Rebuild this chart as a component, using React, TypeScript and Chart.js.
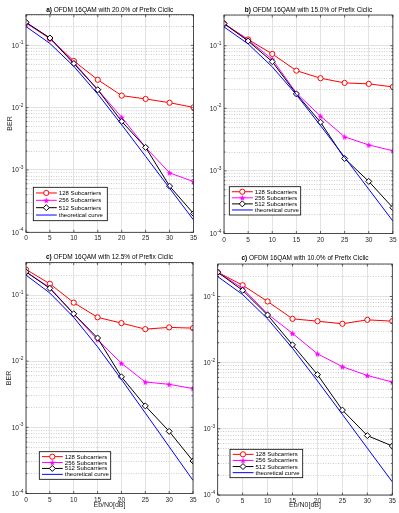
import React, { useEffect, useRef } from 'react';
import { Chart, registerables } from 'chart.js';
Chart.register(...registerables);

// ---------- data ----------
const snr = [0, 5, 10, 15, 20, 25, 30, 35];
const xTickValues = [0, 5, 10, 15, 20, 25, 30, 35];
const seriesNames = ['128 Subcarriers', '256 Subcarriers', '512 Subcarriers', 'theoretical curve'];
const titlePrefixes = ['a)', 'b)', 'c)', 'c)'];
const titleTexts = [
  ' OFDM 16QAM with 20.0% of Prefix Ciclic',
  ' OFDM 16QAM with 15.0% of Prefix Ciclic',
  ' OFDM 16QAM with 12.5% of Prefix Ciclic',
  ' OFDM 16QAM with 10.0% of Prefix Ciclic',
];
const yLabel = 'BER';
const xLabel = 'Eb/N0[dB]';
const yMin = 1e-4;
const yMax = 0.31;

const ber128A = [0.229, 0.128, 0.056, 0.028, 0.0156, 0.0138, 0.012, 0.0101];
const ber256A = [0.228, 0.131, 0.053, 0.0194, 0.007, 0.0023, 0.0009, 0.00065];
const ber512A = [0.234, 0.131, 0.051, 0.0194, 0.006, 0.0023, 0.00055, 0.0002];

const ber128B = [0.226, 0.126, 0.074, 0.04, 0.0303, 0.0255, 0.0246, 0.022];
const ber256B = [0.226, 0.123, 0.061, 0.0175, 0.0075, 0.0035, 0.0026, 0.0021];
const ber512B = [0.226, 0.119, 0.0557, 0.017, 0.006, 0.00158, 0.00068, 0.000258];

const ber128C = [0.243, 0.148, 0.0767, 0.046, 0.0376, 0.0305, 0.0324, 0.0316];
const ber256C = [0.224, 0.129, 0.052, 0.0211, 0.0093, 0.00484, 0.00447, 0.00385];
const ber512C = [0.224, 0.126, 0.052, 0.0224, 0.0058, 0.00211, 0.00087, 0.00031];

const ber128D = [0.233, 0.148, 0.0842, 0.046, 0.0424, 0.0387, 0.0444, 0.0424];
const ber256D = [0.233, 0.133, 0.0545, 0.0277, 0.0136, 0.0087, 0.0064, 0.0051];
const ber512D = [0.233, 0.124, 0.0526, 0.0186, 0.0066, 0.00192, 0.00079, 0.00055];

const berTheory = [0.2, 0.107, 0.046, 0.0165, 0.0053, 0.00165, 0.00051, 0.000158];

const panelSeries = [
  [ber128A, ber256A, ber512A],
  [ber128B, ber256B, ber512B],
  [ber128C, ber256C, ber512C],
  [ber128D, ber256D, ber512D],
];

// ---------- layout (page coordinates) ----------
type Layout = {
  cx: number; cy: number; cw: number; ch: number;
  L: number; T: number; R: number; B: number;
  lg: [number, number, number, number];
  titleY: number;
  yTitleX: number | null;
  xTitleY: number | null;
};
const layouts: Layout[] = [
  { cx: 0, cy: 0, cw: 200, ch: 250, L: 26, T: 14.7, R: 193.5, B: 232.3, lg: [33.3, 187.3, 74, 33.4], titleY: 10.5, yTitleX: 10, xTitleY: null },
  { cx: 200, cy: 0, cw: 199, ch: 250, L: 224, T: 15, R: 395, B: 233.5, lg: [229.3, 186.7, 71.4, 28.3], titleY: 10.5, yTitleX: null, xTitleY: null },
  { cx: 0, cy: 250, cw: 200, ch: 263, L: 26, T: 262.5, R: 193, B: 493.5, lg: [39.3, 451.7, 71.4, 27.6], titleY: 257.5, yTitleX: 9.5, xTitleY: 505 },
  { cx: 200, cy: 250, cw: 199, ch: 263, L: 217.7, T: 264, R: 392.3, B: 495, lg: [230, 449.3, 72.7, 28.4], titleY: 258.3, yTitleX: null, xTitleY: 505 },
];

const FONT = '"Liberation Sans", Arial, sans-serif';
const colors = ['#ff0000', '#ff00ff', '#000000', '#0000ff'];

function isDecade(v: number | undefined) {
  if (v === undefined || v <= 0) return false;
  const l = Math.log10(v);
  return Math.abs(l - Math.round(l)) < 1e-6;
}

const yGridValues: number[] = [];
for (let e = -4; e <= -1; e++) {
  for (let m = 1; m <= 9; m++) {
    const v = Number((m * Math.pow(10, e)).toPrecision(6));
    if (v <= yMax) yGridValues.push(v);
  }
}

function makeStar(color: string, size: number) {
  const c = document.createElement('canvas');
  c.width = size;
  c.height = size;
  const g = c.getContext('2d')!;
  const cxp = size / 2, cyp = size / 2 + 0.3;
  const ro = size / 2 - 0.2, ri = ro * 0.42;
  g.beginPath();
  for (let i = 0; i < 10; i++) {
    const r = i % 2 === 0 ? ro : ri;
    const a = -Math.PI / 2 + (i * Math.PI) / 5;
    const x = cxp + r * Math.cos(a);
    const y = cyp + r * Math.sin(a);
    if (i === 0) g.moveTo(x, y); else g.lineTo(x, y);
  }
  g.closePath();
  g.fillStyle = color;
  g.fill();
  return c;
}

function drawMarker(ctx: CanvasRenderingContext2D, idx: number, x: number, y: number, star: HTMLCanvasElement) {
  ctx.save();
  ctx.lineWidth = 1;
  if (idx === 0) {
    ctx.beginPath();
    ctx.arc(x, y, 2.6, 0, Math.PI * 2);
    ctx.fillStyle = '#fff';
    ctx.fill();
    ctx.strokeStyle = colors[0];
    ctx.stroke();
  } else if (idx === 1) {
    ctx.drawImage(star, x - star.width / 2, y - star.height / 2);
  } else if (idx === 2) {
    ctx.beginPath();
    ctx.moveTo(x, y - 3);
    ctx.lineTo(x + 3, y);
    ctx.lineTo(x, y + 3);
    ctx.lineTo(x - 3, y);
    ctx.closePath();
    ctx.fillStyle = '#fff';
    ctx.fill();
    ctx.strokeStyle = colors[2];
    ctx.stroke();
  }
  ctx.restore();
}

function Panel({ index }: { index: number }) {
  const ref = useRef<HTMLCanvasElement | null>(null);
  const lay = layouts[index];
  useEffect(() => {
    const canvas = ref.current;
    if (!canvas) return;
    const star = makeStar(colors[1], 7);
    const [s128, s256, s512] = panelSeries[index];
    const pts = (arr: number[]) => snr.map((x, i) => ({ x, y: arr[i] }));
    const yW = lay.L - lay.cx;
    const xH = lay.cy + lay.ch - lay.B;
    const padTop = lay.T - lay.cy;
    const padRight = lay.cx + lay.cw - lay.R;

    const decor = {
      id: 'decor',
      afterDraw(chart: any) {
        const ctx: CanvasRenderingContext2D = chart.ctx;
        const ca = chart.chartArea;
        const xs = chart.scales.x;
        const ys = chart.scales.y;
        ctx.save();
        // tick marks
        ctx.strokeStyle = '#262626';
        ctx.lineWidth = 0.7;
        ctx.beginPath();
        xTickValues.forEach((v) => {
          const px = xs.getPixelForValue(v);
          ctx.moveTo(px, ca.bottom); ctx.lineTo(px, ca.bottom - 2.5);
          ctx.moveTo(px, ca.top); ctx.lineTo(px, ca.top + 2.5);
        });
        yGridValues.forEach((v) => {
          const py = ys.getPixelForValue(v);
          const len = isDecade(v) ? 2.5 : 1.4;
          ctx.moveTo(ca.left, py); ctx.lineTo(ca.left + len, py);
          ctx.moveTo(ca.right, py); ctx.lineTo(ca.right - len, py);
        });
        ctx.stroke();
        // box
        ctx.lineWidth = 0.8;
        ctx.strokeRect(ca.left, ca.top, ca.right - ca.left, ca.bottom - ca.top);
        // y tick labels
        ctx.fillStyle = '#262626';
        ctx.textBaseline = 'middle';
        ctx.textAlign = 'left';
        [1e-1, 1e-2, 1e-3, 1e-4].forEach((v) => {
          const py = ys.getPixelForValue(v);
          const ex = '-' + Math.round(-Math.log10(v));
          ctx.font = `4.8px ${FONT}`;
          const we = ctx.measureText(ex).width;
          ctx.font = `6.5px ${FONT}`;
          const wb = ctx.measureText('10').width;
          const right = ca.left - 2.5;
          ctx.fillText('10', right - we - wb - 0.3, py + 0.5);
          ctx.font = `4.8px ${FONT}`;
          ctx.fillText(ex, right - we, py - 2.2);
        });
        // title
        const cxm = (ca.left + ca.right) / 2;
        const ty = lay.titleY - lay.cy;
        ctx.fillStyle = '#000';
        ctx.font = `bold 6.5px ${FONT}`;
        const w1 = ctx.measureText(titlePrefixes[index]).width;
        ctx.font = `6.5px ${FONT}`;
        const w2 = ctx.measureText(titleTexts[index]).width;
        const sx = cxm - (w1 + w2) / 2;
        ctx.font = `bold 6.5px ${FONT}`;
        ctx.fillText(titlePrefixes[index], sx, ty);
        ctx.font = `6.5px ${FONT}`;
        ctx.fillText(titleTexts[index], sx + w1, ty);
        // axis titles
        ctx.fillStyle = '#262626';
        ctx.textAlign = 'center';
        ctx.font = `7px ${FONT}`;
        if (lay.yTitleX !== null) {
          ctx.save();
          ctx.translate(lay.yTitleX - lay.cx, (ca.top + ca.bottom) / 2);
          ctx.rotate(-Math.PI / 2);
          ctx.fillText(yLabel, 0, 0);
          ctx.restore();
        }
        if (lay.xTitleY !== null) {
          ctx.fillText(xLabel, cxm, lay.xTitleY - lay.cy);
        }
        // legend
        const [lx0, ly0, lw, lh] = lay.lg;
        const lx = lx0 - lay.cx, ly = ly0 - lay.cy;
        ctx.fillStyle = '#fff';
        ctx.fillRect(lx, ly, lw, lh);
        ctx.strokeStyle = '#000';
        ctx.lineWidth = 0.8;
        ctx.strokeRect(lx, ly, lw, lh);
        const pad = 2;
        const rowH = (lh - 2 * pad) / 4;
        ctx.textAlign = 'left';
        ctx.textBaseline = 'middle';
        ctx.font = `6px ${FONT}`;
        seriesNames.forEach((name, i) => {
          const ry = ly + pad + rowH * (i + 0.5);
          ctx.strokeStyle = colors[i];
          ctx.lineWidth = 1;
          ctx.beginPath();
          ctx.moveTo(lx + 2.7, ry);
          ctx.lineTo(lx + 23.5, ry);
          ctx.stroke();
          drawMarker(ctx, i, lx + 13, ry, star);
          ctx.fillStyle = '#000';
          ctx.fillText(name, lx + 25.5, ry + 0.3);
        });
        ctx.restore();
      },
    };

    const chart = new Chart(canvas, {
      type: 'line',
      data: {
        datasets: [
          { label: seriesNames[0], data: pts(s128), borderColor: colors[0], borderWidth: 1, pointStyle: 'circle', pointRadius: 2.6, pointBorderWidth: 1, pointBorderColor: colors[0], pointBackgroundColor: '#fff', order: 4, tension: 0, fill: false },
          { label: seriesNames[1], data: pts(s256), borderColor: colors[1], borderWidth: 1, pointStyle: star as any, pointRadius: 3, order: 3, tension: 0, fill: false },
          { label: seriesNames[2], data: pts(s512), borderColor: colors[2], borderWidth: 1, pointStyle: 'rectRot', pointRadius: 3, pointBorderWidth: 1, pointBorderColor: colors[2], pointBackgroundColor: '#fff', order: 2, tension: 0, fill: false },
          { label: seriesNames[3], data: pts(berTheory), borderColor: colors[3], borderWidth: 1, pointRadius: 0, order: 1, tension: 0, fill: false },
        ] as any,
      },
      options: {
        responsive: false,
        animation: false,
        devicePixelRatio: 1,
        events: [],
        layout: { padding: { left: 0, top: padTop, right: padRight, bottom: 0 } },
        plugins: { legend: { display: false }, title: { display: false }, tooltip: { enabled: false } },
        scales: {
          x: {
            type: 'linear', min: 0, max: 35,
            afterBuildTicks: (s: any) => { s.ticks = xTickValues.map((v) => ({ value: v })); },
            afterFit: (s: any) => { s.height = xH; },
            grid: { color: '#e2e2e2', lineWidth: 1, drawTicks: false },
            border: { display: false },
            ticks: { font: { size: 6.5, family: FONT }, color: '#262626', padding: 2.5, maxRotation: 0, minRotation: 0, autoSkip: false },
          },
          y: {
            type: 'logarithmic', min: yMin, max: yMax,
            afterBuildTicks: (s: any) => { s.ticks = yGridValues.map((v) => ({ value: v })); },
            afterFit: (s: any) => { s.width = yW; },
            grid: { color: (c: any) => (isDecade(c.tick?.value) ? '#e2e2e2' : '#cfcfcf'), lineWidth: 1, drawTicks: false },
            border: { display: false, dash: (c: any) => (c.tick && !isDecade(c.tick.value) ? [1, 1.5] : []) },
            ticks: { display: false, autoSkip: false },
          },
        },
      } as any,
      plugins: [decor],
    });
    return () => chart.destroy();
  }, [index]);
  return (
    <canvas
      ref={ref}
      width={lay.cw}
      height={lay.ch}
      style={{ position: 'absolute', left: lay.cx, top: lay.cy, width: lay.cw, height: lay.ch }}
    />
  );
}

export default function App() {
  return (
    <div style={{ position: 'absolute', left: 0, top: 0, width: 399, height: 513, background: '#fff' }}>
      {[0, 1, 2, 3].map((i) => (
        <Panel key={i} index={i} />
      ))}
    </div>
  );
}
